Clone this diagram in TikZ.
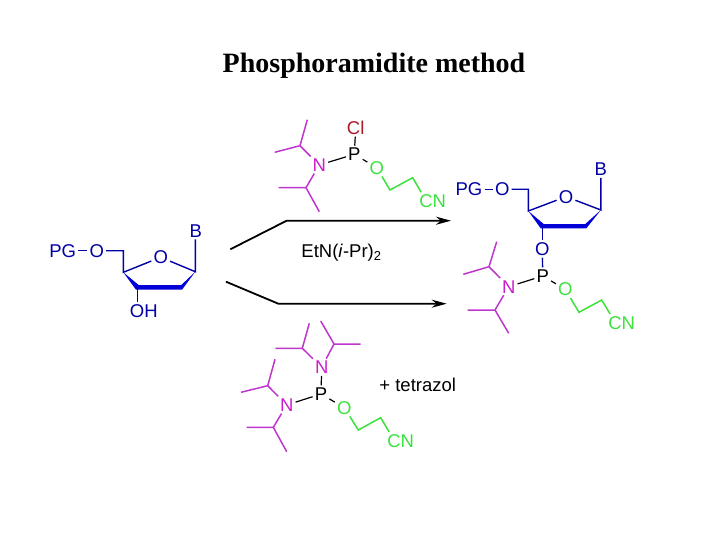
\documentclass[tikz,border=0pt]{standalone}
\usepackage{fontspec}
\setmainfont{Liberation Sans}
\newfontfamily\titlefont{Liberation Serif}
\usepackage{xcolor}
\usepackage{tikz}
\usetikzlibrary{arrows.meta,calc}
\definecolor{sugarblue}{RGB}{0,0,165}
\definecolor{wedgeblue}{RGB}{0,0,215}
\definecolor{amineviolet}{RGB}{190,55,205}
\definecolor{aminelabel}{RGB}{205,30,205}
\definecolor{chaingreen}{RGB}{60,225,60}
\definecolor{chlorred}{RGB}{170,25,40}

\begin{document}
\begin{tikzpicture}[
  x=1pt, y=-1pt,
  atom/.style={inner sep=2pt, font=\fontsize{18.5}{20}\selectfont},
  sugaratom/.style={atom, text=sugarblue},
  amineatom/.style={atom, text=aminelabel},
  chainatom/.style={atom, text=chaingreen},
  sugarbond/.style={draw=sugarblue, line width=1.4pt},
  aminebond/.style={draw=amineviolet, line width=1.5pt},
  chainbond/.style={draw=chaingreen, line width=1.5pt},
  pbond/.style={draw=black, line width=1.2pt},
  ringfront/.style={fill=wedgeblue},
  arr/.style={-{Stealth[length=15pt, width=8pt]}, line width=1.8pt}
]
\useasboundingbox (0,0) rectangle (720,540);

\node[font=\titlefont\bfseries\fontsize{28}{30}\selectfont] (title) at (374,66) {Phosphoramidite method};

%% Left sugar
\node[sugaratom] (lpg) at (62.7,250.7) {PG};
\node[sugaratom] (lo5) at (96.7,250.7) {O};
\node[sugaratom] (lo)  at (160.7,257.3) {O};
\node[sugaratom] (lb)  at (195.7,230.7) {B};
\node[sugaratom] (loh) at (143.8,310.7) {OH};
\coordinate (lc5) at (123.3,250.7);
\coordinate (lc4) at (123.3,272.3);
\coordinate (lc3) at (137.3,287.3);
\coordinate (lc2) at (181.7,287.3);
\coordinate (lc1) at (195.3,271.7);
\draw[sugarbond] (lpg) -- (lo5);
\draw[sugarbond] (lo5) -- (lc5) -- (lc4) -- (lo) -- (lc1) -- (lc1 |- lb.south);
\draw[sugarbond] (lc3) -- (lc3 |- loh.north);
\fill[ringfront] (lc4) -- ($(lc3)+(1.5,-2.2)$) -- ($(lc2)+(-0.5,-2.2)$) -- (lc1)
  -- ($(lc2)+(0.5,2.2)$) -- ($(lc3)+(-1.5,2.2)$) -- cycle;

%% Chloride reagent
\node[atom, text=chlorred] (acl) at (355.7,127.7) {Cl};
\node[atom]                (ap)  at (354.3,154.3) {P};
\node[amineatom]           (an)  at (319.3,165)   {N};
\node[chainatom]           (ao)  at (376.7,167.7) {O};
\node[chainatom]           (acn) at (432.7,201)   {CN};
\coordinate (ach1) at (300,145.7);
\coordinate (ame1) at (307.3,119.7);
\coordinate (ame2) at (274.7,152.3);
\coordinate (ach2) at (306,187.7);
\coordinate (ame3) at (278.7,187.7);
\coordinate (ame4) at (319.3,211.7);
\coordinate (ac1) at (390,190);
\coordinate (ac2) at (412.7,177.7);
\draw[pbond] (ap) -- (acl);
\draw[pbond] (ap) -- (an);
\draw[pbond] (ap) -- (ao);
\draw[aminebond] (an) -- (ach1) (ame1) -- (ach1) -- (ame2);
\draw[aminebond] (an) -- (ach2) (ame3) -- (ach2) -- (ame4);
\draw[chainbond] (ao) -- (ac1) -- (ac2) -- ([xshift=4pt]acn.north west);

%% Reaction arrows
\coordinate (topstart) at (230.3,249.3);
\coordinate (topbend)  at (286.7,220.7);
\coordinate (topend)   at (451,220.7);
\coordinate (lowstart) at (226,281.7);
\coordinate (lowbend)  at (278.3,303.7);
\coordinate (lowend)   at (446.7,303.7);
\draw[arr] (topstart) -- (topbend) -- (topend);
\draw[arr] (lowstart) -- (lowbend) -- (lowend);
\node[atom] (base) at (341.5,253) {EtN(\textit{i}-Pr)\textsubscript{2}};

%% Product
\node[sugaratom] (ppg) at (469,189.3)   {PG};
\node[sugaratom] (po5) at (502.3,189.3) {O};
\node[sugaratom] (po)  at (566,196.7)   {O};
\node[sugaratom] (pb)  at (600.7,169.3) {B};
\node[sugaratom] (po3) at (542.3,249)   {O};
\node[atom]      (pp)  at (542.7,276)   {P};
\node[amineatom] (pn)  at (508.7,286.7) {N};
\node[chainatom] (pox) at (565.3,289.3) {O};
\node[chainatom] (pcn) at (621.7,322.7) {CN};
\coordinate (pc5) at (528.3,189.3);
\coordinate (pc4) at (528.3,211);
\coordinate (pc3) at (542.3,226.3);
\coordinate (pc2) at (585.7,226.3);
\coordinate (pc1) at (600.9,210);
\coordinate (pch1) at (489,266.7);
\coordinate (pme1) at (496.7,241.7);
\coordinate (pme2) at (463.3,274.3);
\coordinate (pch2) at (495,310);
\coordinate (pme3) at (467.7,310);
\coordinate (pme4) at (508.7,333.3);
\coordinate (pc6) at (579,312.3);
\coordinate (pc7) at (601.7,300);
\draw[sugarbond] (ppg) -- (po5);
\draw[sugarbond] (po5) -- (pc5) -- (pc4) -- (po) -- (pc1) -- (pc1 |- pb.south);
\draw[sugarbond] (pc3) -- (po3);
\fill[ringfront] (pc4) -- ($(pc3)+(1.5,-2.2)$) -- ($(pc2)+(-0.5,-2.2)$) -- (pc1)
  -- ($(pc2)+(0.5,2.2)$) -- ($(pc3)+(-1.5,2.2)$) -- cycle;
\draw[sugarbond] (po3) -- (pp);
\draw[pbond] (pp) -- (pn);
\draw[pbond] (pp) -- (pox);
\draw[aminebond] (pn) -- (pch1) (pme1) -- (pch1) -- (pme2);
\draw[aminebond] (pn) -- (pch2) (pme3) -- (pch2) -- (pme4);
\draw[chainbond] (pox) -- (pc6) -- (pc7) -- ([xshift=4pt]pcn.north west);

%% Bis(amino) reagent
\node[amineatom] (bn1) at (321.7,367.3) {N};
\node[atom]      (bp)  at (321,394)     {P};
\node[amineatom] (bn2) at (286.7,405)   {N};
\node[chainatom] (bo)  at (344.3,407.7) {O};
\node[chainatom] (bcn) at (400.7,440.7) {CN};
\node[atom]      (tet) at (417.7,385)   {+ tetrazol};
\coordinate (bch1) at (302.3,348.3);
\coordinate (bme1) at (309.3,323.3);
\coordinate (bme2) at (275.3,348.3);
\coordinate (bch2) at (334,344);
\coordinate (bme3) at (320.7,321);
\coordinate (bme4) at (360.7,344);
\coordinate (bch3) at (267.7,385.7);
\coordinate (bme5) at (275,359.3);
\coordinate (bme6) at (241,392.3);
\coordinate (bch4) at (273.3,427.3);
\coordinate (bme7) at (246.7,427.3);
\coordinate (bme8) at (286.7,451.7);
\coordinate (bc1) at (358.3,430);
\coordinate (bc2) at (380.7,417.7);
\draw[pbond] (bp) -- (bn1);
\draw[pbond] (bp) -- (bn2);
\draw[pbond] (bp) -- (bo);
\draw[aminebond] (bn1) -- (bch1) (bme1) -- (bch1) -- (bme2);
\draw[aminebond] (bn1) -- (bch2) (bme3) -- (bch2) -- (bme4);
\draw[aminebond] (bn2) -- (bch3) (bme5) -- (bch3) -- (bme6);
\draw[aminebond] (bn2) -- (bch4) (bme7) -- (bch4) -- (bme8);
\draw[chainbond] (bo) -- (bc1) -- (bc2) -- ([xshift=4pt]bcn.north west);

\end{tikzpicture}
\end{document}
